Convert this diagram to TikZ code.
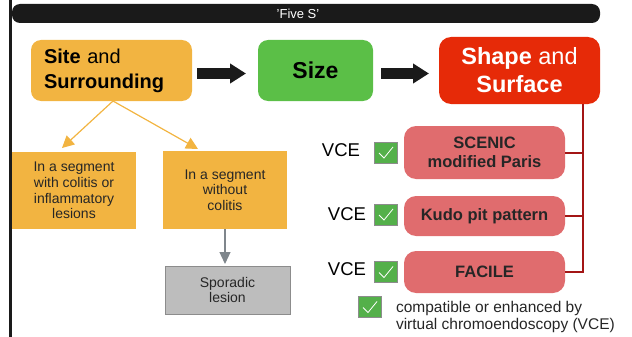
\documentclass[tikz,border=0pt]{standalone}
\usepackage{fontspec}
\setmainfont{Liberation Sans}
\usetikzlibrary{arrows.meta}

\definecolor{siteorange}{HTML}{F2B441}
\definecolor{sizegreen}{HTML}{5BBF47}
\definecolor{shapered}{HTML}{E62A08}
\definecolor{subred}{HTML}{E06C6E}
\definecolor{busred}{HTML}{A31515}
\definecolor{sporgray}{HTML}{BDBDBD}
\definecolor{sporline}{HTML}{8C8C8C}
\definecolor{arrowgray}{HTML}{7F868C}
\definecolor{tickgreen}{HTML}{54B04A}
\definecolor{barblack}{HTML}{1A1A1A}

% white tick inside a check box node
\newcommand{\vcetick}[1]{%
  \draw[white, line width=0.8] ([shift={(-6.5,0.5)}]#1.center) -- ([shift={(-1.5,5.5)}]#1.center) -- ([shift={(7.5,-5.5)}]#1.center);}

\begin{document}
\begin{tikzpicture}[x=1pt, y=-1pt, every node/.style={outer sep=0pt}, line join=miter,
    mainbox/.style={rounded corners=10, minimum height=61, inner sep=0pt},
    subbox/.style={fill=subred, rounded corners=12, minimum width=161, inner sep=0pt, align=center, font=\fontsize{16.5}{19}\selectfont\bfseries, text=black!85},
    segbox/.style={fill=siteorange, minimum width=124, minimum height=77, inner sep=0pt, align=center, font=\fontsize{14}{15.7}\selectfont, text=black!85},
    checkbox/.style={fill=tickgreen, draw=black!45, line width=0.5, minimum width=23, minimum height=21, inner sep=0pt},
    vcelabel/.style={font=\fontsize{18.5}{20}\selectfont, text=black, inner sep=0pt},
    blockarrow/.style={barblack, line width=11, -{Triangle[length=16pt, width=19pt]}},
    orangearrow/.style={siteorange, line width=1.2, -{Triangle[length=12pt, width=12pt]}},
    grayarrow/.style={arrowgray, line width=1.2, -{Triangle[length=12pt, width=11pt]}},
    busline/.style={busred, line width=2}]
    \useasboundingbox (0,0) rectangle (632,337);

    % frame
    \draw[barblack, line width=3] (10.5,0) -- (10.5,337);
    \node[fill=barblack, rounded corners=8, minimum width=588, minimum height=19, inner sep=0pt] (fivebar) at (306, 13.5) {};
    \node[text=white, inner sep=0pt, font=\fontsize{13}{15}\selectfont] (fives) at (298, 13.5) {'Five S'};

    % the three S boxes
    \node[mainbox, fill=siteorange, text width=135, inner xsep=13, align=left, font=\fontsize{20}{25}\selectfont] (site) at (111.5, 70.5) {\textbf{Site} and\\\textbf{Surrounding}};
    \node[mainbox, fill=sizegreen, minimum width=115, font=\fontsize{23}{25}\selectfont\bfseries] (size) at (315.5, 70.5) {Size};
    \node[mainbox, fill=shapered, rounded corners=12, minimum width=161, minimum height=67, align=center, text=white, font=\fontsize{23.5}{28}\selectfont] (shape) at (519.5, 70.5) {\textbf{Shape} and\\\textbf{Surface}};

    \draw[blockarrow] ([xshift=5, yshift=-3]site.east) -- ([xshift=-12, yshift=-3]size.west);
    \draw[blockarrow] ([xshift=8, yshift=-3]size.east) -- ([xshift=-10, yshift=-3]shape.west);

    % site branches
    \node[segbox] (sega) at (74, 190.5) {In a segment\\with colitis or\\inflammatory\\lesions};
    \node[segbox, minimum height=78] (segb) at (225, 190) {In a segment\\without\\colitis};
    \node[fill=sporgray, draw=sporline, line width=0.8, minimum width=125, minimum height=48, inner sep=0pt, align=center, font=\fontsize{14}{15.7}\selectfont, text=black!85] (spor) at (227.5, 290) {Sporadic\\lesion};

    \draw[orangearrow] ([xshift=1.5]site.south) -- ([xshift=-12, yshift=4]sega.north);
    \draw[orangearrow] ([xshift=1.5]site.south) -- ([xshift=-27, yshift=2]segb.north);
    \draw[grayarrow] (segb.south) -- ([yshift=2]segb.south |- spor.north);

    % shape and surface classifications
    \node[subbox, minimum height=53] (scenic) at (484.5, 152.5) {SCENIC\\modified Paris};
    \node[subbox, minimum height=40] (kudo) at (484.5, 216) {Kudo pit pattern};
    \node[subbox, minimum height=42] (facile) at (484.5, 272) {FACILE};

    \coordinate (bus) at ([xshift=-17]shape.south east);
    \draw[busline] (bus) |- (facile.east);
    \draw[busline] (bus |- scenic.east) -- (scenic.east);
    \draw[busline] (bus |- kudo.east) -- (kudo.east);

    % VCE marks
    \node[vcelabel] (vcea) at (341, 150) {VCE};
    \node[vcelabel] (vceb) at (347, 214) {VCE};
    \node[vcelabel] (vcec) at (347, 269) {VCE};
    \node[checkbox] (ticka) at (385.5, 152.5) {};
    \node[checkbox] (tickb) at (385.5, 214.5) {};
    \node[checkbox] (tickc) at (385.5, 272) {};
    \vcetick{ticka}
    \vcetick{tickb}
    \vcetick{tickc}

    % legend
    \node[checkbox] (tickkey) at (369.5, 307) {};
    \vcetick{tickkey}
    \node[anchor=west, align=left, inner sep=4pt, font=\fontsize{15.5}{17}\selectfont, text=black!85] (keytext) at (392, 317) {compatible or enhanced by\\virtual chromoendoscopy (VCE)};
\end{tikzpicture}
\end{document}
